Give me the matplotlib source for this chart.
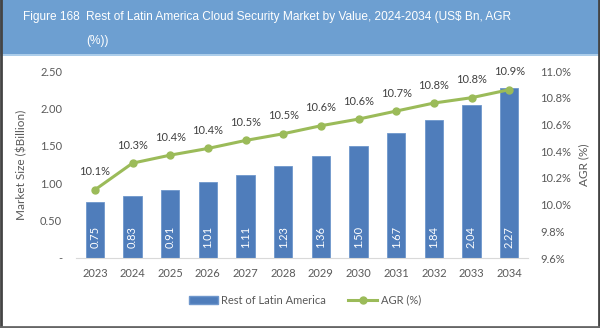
import matplotlib
matplotlib.use("Agg")
import matplotlib.pyplot as plt
from matplotlib.patches import Rectangle
from matplotlib.lines import Line2D

years = ["2023", "2024", "2025", "2026", "2027", "2028",
         "2029", "2030", "2031", "2032", "2033", "2034"]
market_size = [0.75, 0.83, 0.91, 1.01, 1.11, 1.23, 1.36, 1.50, 1.67, 1.84, 2.04, 2.27]
agr = [10.11, 10.31, 10.37, 10.42, 10.48, 10.53, 10.59, 10.64, 10.70, 10.76, 10.80, 10.86]
left_ticks = [0, 0.5, 1.0, 1.5, 2.0, 2.5]
right_ticks = [9.6, 9.8, 10.0, 10.2, 10.4, 10.6, 10.8, 11.0]

bar_color = "#4f7dbb"
line_color = "#9bbb59"
text_color = "#595959"
font = ["Lato", "DejaVu Sans"]

W, H = 600, 328
fig = plt.figure(figsize=(W / 100, H / 100), dpi=100)
fig.patch.set_facecolor("white")
renderer = fig.canvas.get_renderer()

# header band
fig.add_artist(Rectangle((0, 1 - 54 / H), 1, 54 / H, transform=fig.transFigure,
                         facecolor="#6d9fd1", edgecolor="none", zorder=0))
fig.add_artist(Line2D([0, 1], [1 - 55 / H, 1 - 55 / H], transform=fig.transFigure,
                      color="#9cc3e6", lw=1.2))

# title sized so that its first line spans the header
title = fig.text(86 / W, 1 - 17 / H,
                 "Rest of Latin America Cloud Security Market by Value, 2024-2034 (US$ Bn, AGR",
                 color="white", fontsize=9, family="Liberation Sans", va="center", ha="left")
title.set_fontsize(9 * 426 / title.get_window_extent(renderer).width)
size = title.get_fontsize()
fig.text(80 / W, 1 - 17 / H, "Figure 168", color="white", fontsize=size,
         family="Liberation Sans", va="center", ha="right")
fig.text(86 / W, 1 - 41 / H, "(%))", color="white", fontsize=size,
         family="Liberation Sans", va="center", ha="left")

# outer frame
fig.add_artist(Line2D([1 / W, 1 / W], [0, 1], transform=fig.transFigure, color="#444444", lw=2))
fig.add_artist(Line2D([599 / W, 599 / W], [0, 1], transform=fig.transFigure, color="#444444", lw=2))
fig.add_artist(Line2D([0, 1], [1 / H, 1 / H], transform=fig.transFigure, color="#666666", lw=2))

ax = fig.add_axes([76 / W, 1 - 258 / H, (528 - 76) / W, (258 - 71) / H])
x = list(range(len(years)))
ax.bar(x, market_size, width=0.49, color=bar_color, edgecolor="#6f97cc",
       linewidth=0.6, zorder=2)
for xi, v in zip(x, market_size):
    ax.text(xi, 0.28, f"{v:.2f}", rotation=90, color="white", fontsize=8,
            family=font, ha="center", va="center", zorder=3)

ax.set_xlim(-0.5, len(years) - 0.5)
ax.set_ylim(0, 2.5)
ax.set_yticks(left_ticks)
ax.set_yticklabels(["-" if t == 0 else f"{t:.2f}" for t in left_ticks])
ax.set_xticks(x)
ax.set_xticklabels(years)
for s in ["top", "right", "left"]:
    ax.spines[s].set_visible(False)
ax.spines["bottom"].set_color("#d9d9d9")
ax.tick_params(axis="both", length=0, colors=text_color, labelsize=8)
ax.tick_params(axis="y", pad=10)
ax.tick_params(axis="x", pad=7)
for lbl in ax.get_xticklabels() + ax.get_yticklabels():
    lbl.set_family(font)
ax.set_ylabel("Market Size ($Billion)", color=text_color, fontsize=8.5, family=font, labelpad=9)

ax2 = ax.twinx()
ax2.plot(x, agr, color=line_color, lw=2.2, marker="o", markersize=5, zorder=4)
for xi, v in zip(x, agr):
    ax2.annotate(f"{v:.1f}%", (xi, v), xytext=(0, 9), textcoords="offset points",
                 ha="center", va="bottom", fontsize=8, color="#404040", family=font)
ax2.set_ylim(9.6, 11.0)
ax2.set_yticks(right_ticks)
ax2.set_yticklabels([f"{t:.1f}%" for t in right_ticks])
for s in ["top", "right", "left", "bottom"]:
    ax2.spines[s].set_visible(False)
ax2.tick_params(axis="y", length=0, colors=text_color, labelsize=8, pad=9)
for lbl in ax2.get_yticklabels():
    lbl.set_family(font)
ax2.set_ylabel("AGR (%)", color=text_color, fontsize=8.5, family=font, labelpad=5)

handles = [Rectangle((0, 0), 1, 1, facecolor=bar_color, edgecolor="#6f97cc"),
           Line2D([], [], color=line_color, lw=2.2, marker="o", markersize=5)]
fig.legend(handles, ["Rest of Latin America", "AGR (%)"], loc="center",
           bbox_to_anchor=(305 / W, 1 - 300 / H), ncol=2, frameon=False,
           prop={"family": font, "size": 8}, labelcolor=text_color,
           handlelength=2.6, handletextpad=0.3, columnspacing=2.0)

fig.savefig("out.png", dpi=100, facecolor="white")
